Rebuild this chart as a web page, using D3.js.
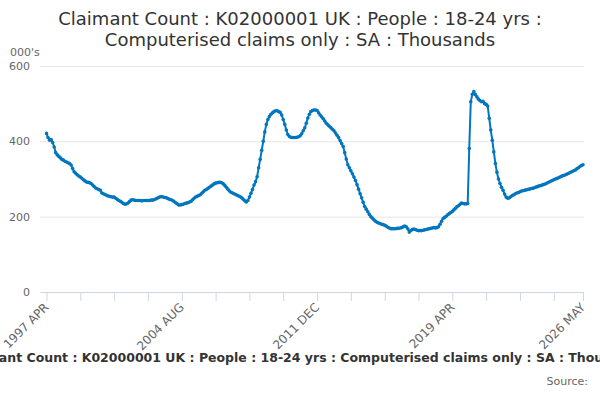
<!DOCTYPE html>
<html><head><meta charset="utf-8">
<script src="https://cdn.jsdelivr.net/npm/d3@7"></script>
<style>body{margin:0;background:#fff;}svg{display:block;font-family:"DejaVu Sans",sans-serif;}</style>
</head><body>
<svg id="c" width="600" height="400"></svg>
<script>
const titleLines = ["Claimant Count : K02000001 UK : People : 18-24 yrs :", "Computerised claims only : SA : Thousands"];
const footerText = "Claimant Count : K02000001 UK : People : 18-24 yrs : Computerised claims only : SA : Thousands";
const yUnit = "000's";
const startYear = 1997, startMonth = 3; // April (0-based)
const monthNames = ["JAN","FEB","MAR","APR","MAY","JUN","JUL","AUG","SEP","OCT","NOV","DEC"];
const values = [
421,410,403,405,397,385,370,364,360,356,352,350,347,345,343,341,337,328,319,315,
311,308,305,302,298,295,292,291,290,288,284,280,276,274,272,270,263,261,259,257,
255,254,253,252,252,249,246,243,241,238,235,233,234,236,240,244,245,244,243,243,
243,243,242,243,243,243,243,243,244,244,245,247,249,251,253,253,252,251,250,248,
246,245,243,240,237,234,231,231,232,233,235,236,237,239,241,245,249,252,254,256,
258,262,266,270,272,275,278,281,284,287,289,290,291,291,290,287,283,278,273,268,
265,263,261,259,257,255,253,250,246,242,239,243,252,262,272,284,293,306,330,352,
376,400,425,445,458,466,472,476,479,481,481,479,477,470,458,445,430,418,413,411,
410,410,410,411,412,415,420,428,436,448,462,472,479,482,483,483,482,476,470,465,
460,454,448,444,440,436,432,428,422,416,410,402,394,386,370,353,338,330,322,314,
305,296,285,273,261,250,238,227,220,213,206,200,196,192,188,185,183,182,180,179,
177,175,172,170,168,168,168,168,169,169,170,171,173,175,173,168,159,163,166,167,
166,164,163,163,163,164,165,166,167,168,169,170,171,170,171,173,180,188,195,198,
201,205,208,211,214,218,222,226,229,233,236,235,234,234,235,381,505,525,532,524,
518,512,508,505,506,500,498,494,461,430,403,372,341,318,300,288,278,270,260,252,
249,250,253,256,258,261,263,264,266,268,269,270,271,272,273,274,275,276,278,279,
281,282,283,285,286,288,290,292,294,296,298,300,301,303,305,307,309,310,312,314,
316,318,320,322,324,327,330,333,336,338
];
const yTicks = [0, 200, 400, 600];
const xTickLabels = ["1997 APR", "2004 AUG", "2011 DEC", "2019 APR", "2026 MAY"];

const categories = values.map((_, i) => {
  const m = startMonth + i;
  return (startYear + Math.floor(m / 12)) + " " + monthNames[m % 12];
});

const svg = d3.select("#c");
const mLeft = 46.5, mRight = 583, mTop = 66, mBottom = 292;
const x = d3.scalePoint().domain(categories).range([mLeft, mRight]);
const y = d3.scaleLinear().domain([0, 600]).range([mBottom, mTop]);

// title
svg.append("g").selectAll("text").data(titleLines).join("text")
  .attr("x", 300).attr("y", (d, i) => 25 + i * 21)
  .attr("text-anchor", "middle").attr("font-size", 18).attr("fill", "#333")
  .text(d => d);

// y unit
svg.append("text").attr("x", 10).attr("y", 56).attr("font-size", 11).attr("fill", "#666").text(yUnit);

// gridlines
svg.append("g").selectAll("line").data(yTicks.filter(d => d > 0)).join("line")
  .attr("x1", 40).attr("x2", mRight + 1).attr("y1", d => y(d) + 0.5).attr("y2", d => y(d) + 0.5)
  .attr("stroke", "#e6e6e6").attr("stroke-width", 1);

// y axis labels
svg.append("g").selectAll("text").data(yTicks).join("text")
  .attr("x", 30).attr("y", d => y(d) + 4).attr("text-anchor", "end")
  .attr("font-size", 11).attr("fill", "#666").text(d => d);

// x axis
const tickCats = categories.filter((d, i) => i % 22 === 0 || i === categories.length - 1);
const xAxis = d3.axisBottom(x).tickValues(tickCats).tickSize(9).tickFormat("");
const gx = svg.append("g").attr("transform", `translate(0,${mBottom})`).call(xAxis);
gx.select(".domain").attr("stroke", "#ccd6eb").attr("d", `M${mLeft - 6},0.5H${mRight + 1}`);
gx.selectAll(".tick line").attr("stroke", "#ccd6eb");

svg.append("g").selectAll("text").data(xTickLabels).join("text")
  .attr("transform", d => `translate(${x(d) + 3},${mBottom + 16}) rotate(-45)`)
  .attr("text-anchor", "end").attr("font-size", 12).attr("fill", "#666").text(d => d);

// line
const pts = values.map((v, i) => [categories[i], v]);
svg.append("path").datum(pts)
  .attr("fill", "none").attr("stroke", "#0076bf").attr("stroke-width", 2)
  .attr("d", d3.line().x(d => x(d[0])).y(d => y(d[1])));
svg.append("g").selectAll("circle").data(pts).join("circle")
  .attr("cx", d => x(d[0])).attr("cy", d => y(d[1])).attr("r", 1.8).attr("fill", "#0076bf");

// footer
svg.append("text").attr("x", 302).attr("y", 362).attr("text-anchor", "middle")
  .attr("font-size", 12.5).attr("font-weight", "bold").attr("fill", "#333").text(footerText);
svg.append("text").attr("x", 588).attr("y", 385).attr("text-anchor", "end")
  .attr("font-size", 11).attr("fill", "#666").text("Source:");
</script>
</body></html>
